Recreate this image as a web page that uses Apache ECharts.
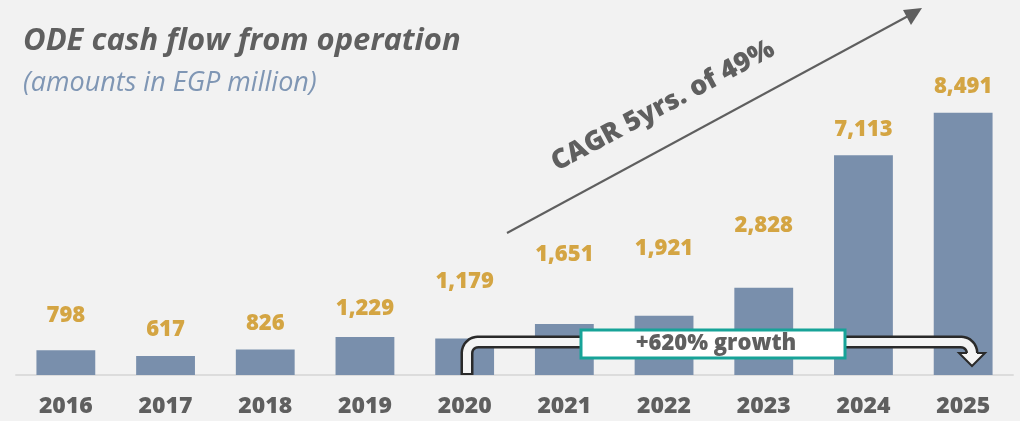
<!DOCTYPE html>
<html>
<head>
<meta charset="utf-8">
<script src="https://cdn.jsdelivr.net/npm/echarts@6/dist/echarts.min.js"></script>
<style>
  html, body { margin: 0; padding: 0; background: #f2f2f2; }
  #main { width: 1020px; height: 421px; }
</style>
</head>
<body>
<div id="main"></div>
<script>
// data
var years = ['2016', '2017', '2018', '2019', '2020', '2021', '2022', '2023', '2024', '2025'];
var cashFlow = [798, 617, 826, 1229, 1179, 1651, 1921, 2828, 7113, 8491];

// label lift above the bar top (px), the 2020-2023 labels sit higher to clear the arrow
var labelLift = [36, 27, 27, 29, 58, 70, 68, 63, 27, 27];

var font = '"Open Sans", Lato, sans-serif';

var barData = cashFlow.map(function (v, i) {
    return {
        value: v,
        label: { distance: labelLift[i] - 12 }
    };
});

// elbow path for the growth arrow, corners rounded with radius r
function bentPath(x1, yBottom, yTop, x2, yEnd, r) {
    var pts = [[x1, yBottom], [x1, yTop + r]];
    var i, a;
    for (i = 1; i <= 8; i++) {
        a = Math.PI - (Math.PI / 2) * i / 8;
        pts.push([x1 + r + r * Math.cos(a), yTop + r - r * Math.sin(a)]);
    }
    pts.push([x2 - r, yTop]);
    for (i = 1; i <= 8; i++) {
        a = Math.PI / 2 - (Math.PI / 2) * i / 8;
        pts.push([x2 - r + r * Math.cos(a), yTop + r - r * Math.sin(a)]);
    }
    pts.push([x2, yEnd]);
    return pts;
}

var option = {
    backgroundColor: '#f2f2f2',
    animation: false,
    title: {
        text: 'ODE cash flow from operation',
        subtext: '(amounts in EGP million)',
        left: 18,
        top: 21,
        itemGap: 13,
        textStyle: {
            fontFamily: font,
            fontSize: 31,
            fontWeight: 'bold',
            fontStyle: 'italic',
            color: '#5f5f5f'
        },
        subtextStyle: {
            fontFamily: font,
            fontSize: 27,
            fontStyle: 'italic',
            color: '#7f96b4'
        }
    },
    grid: {
        left: 16,
        right: 7,
        top: 97,
        bottom: 46
    },
    xAxis: {
        type: 'category',
        data: years,
        axisLine: { lineStyle: { color: '#dcdcdc', width: 2 } },
        axisTick: { length: 6, lineStyle: { color: '#dcdcdc', width: 2 } },
        axisLabel: {
            fontFamily: font,
            fontSize: 23,
            fontWeight: 800,
            color: '#5f5f5f',
            margin: 20
        }
    },
    yAxis: {
        type: 'value',
        min: 0,
        max: 9000,
        show: false,
        splitLine: { show: false }
    },
    series: [{
        type: 'bar',
        data: barData,
        barWidth: '59%',
        itemStyle: { color: '#798fac' },
        label: {
            show: true,
            position: 'top',
            fontFamily: font,
            fontSize: 22,
            fontWeight: 800,
            color: '#d4a543',
            formatter: function (p) {
                return p.value.toLocaleString('en-US');
            }
        }
    }],
    graphic: [
        // CAGR arrow
        {
            type: 'line', z: 100,
            shape: { x1: 507, y1: 233, x2: 910, y2: 15 },
            style: { stroke: '#5f5f5f', lineWidth: 2 }
        },
        {
            type: 'polygon', z: 100,
            shape: { points: [[922, 8], [903, 10], [911, 25]] },
            style: { fill: '#5f5f5f' }
        },
        {
            type: 'text', z: 100,
            x: 663, y: 106,
            rotation: 0.49,
            style: {
                text: 'CAGR 5yrs. of 49%',
                font: '800 27px ' + font,
                fill: '#5f5f5f',
                align: 'center',
                verticalAlign: 'middle'
            }
        },
        // bent growth arrow: dark outline with light core
        {
            type: 'polyline', z: 100,
            shape: { points: bentPath(467, 375, 342, 972, 356, 11) },
            style: { stroke: '#2a2a2a', lineWidth: 13, lineJoin: 'round', fill: null }
        },
        {
            type: 'polyline', z: 101,
            shape: { points: bentPath(467, 373, 342, 972, 358, 11) },
            style: { stroke: '#f4f4f4', lineWidth: 8, lineJoin: 'round', fill: null }
        },
        {
            type: 'polygon', z: 102,
            shape: { points: [[959, 353], [985, 353], [972, 366]] },
            style: { fill: '#f4f4f4' }
        },
        {
            type: 'polyline', z: 103,
            shape: { points: [[967, 353], [959, 353], [972, 366], [985, 353], [977, 353]] },
            style: { stroke: '#2a2a2a', lineWidth: 2, fill: null }
        },
        // growth box
        {
            type: 'rect', z: 104,
            shape: { x: 581, y: 330, width: 264, height: 28 },
            style: { fill: '#ffffff', stroke: '#17a398', lineWidth: 3 }
        },
        {
            type: 'text', z: 105,
            x: 716, y: 344,
            style: {
                text: '+620% growth',
                font: '800 22px ' + font,
                fill: '#5f5f5f',
                align: 'center',
                verticalAlign: 'middle'
            }
        }
    ]
};

var myChart = echarts.init(document.getElementById('main'));
myChart.setOption(option);
</script>
</body>
</html>
